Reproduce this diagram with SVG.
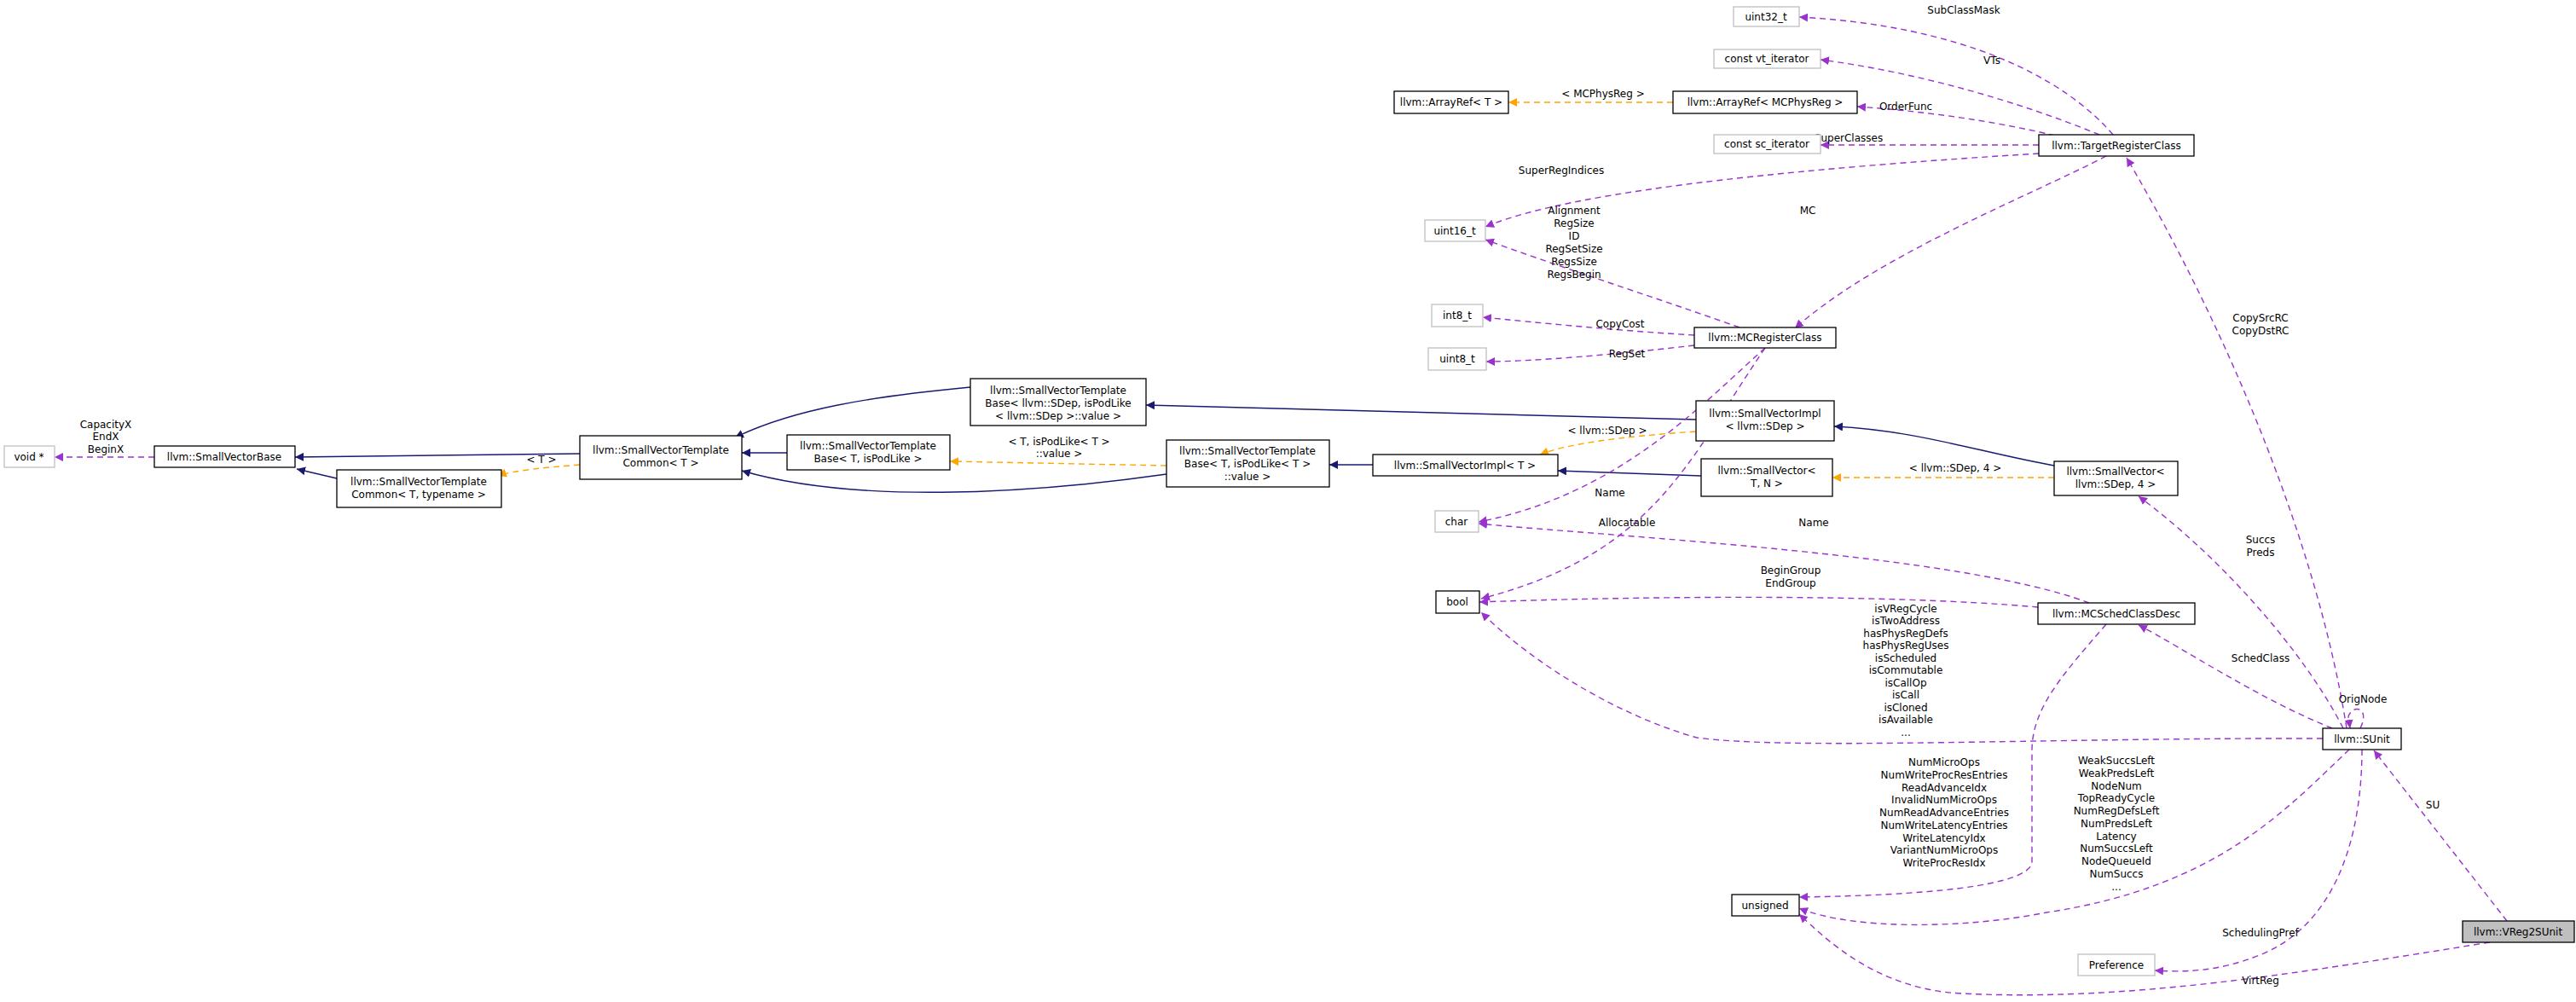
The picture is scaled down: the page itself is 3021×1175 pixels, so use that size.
<svg xmlns="http://www.w3.org/2000/svg" width="3021" height="1175" viewBox="0 0 3021 1175">
<style>
text{font-family:"DejaVu Sans","Liberation Sans",sans-serif;font-size:12px;text-anchor:middle;fill:#000}
.n rect{fill:#fff;stroke:#000;stroke-width:1.3}
.u rect{fill:#fff;stroke:#bfbfbf;stroke-width:1.3}
.h rect{fill:#bfbfbf;stroke:#000;stroke-width:1.3}
.inh{fill:none;stroke:#191970;stroke-width:1.4}
.tpl{fill:none;stroke:#ffa500;stroke-width:1.4;stroke-dasharray:7,5}
.use{fill:none;stroke:#9a32cd;stroke-width:1.4;stroke-dasharray:7,5}
</style>
<defs>
<marker id="an" viewBox="0 0 10 10" refX="10" refY="5" markerWidth="10" markerHeight="10" markerUnits="userSpaceOnUse" orient="auto"><path d="M0,0L10,5L0,10z" fill="#191970"/></marker>
<marker id="ao" viewBox="0 0 10 10" refX="10" refY="5" markerWidth="10" markerHeight="10" markerUnits="userSpaceOnUse" orient="auto"><path d="M0,0L10,5L0,10z" fill="#ffa500"/></marker>
<marker id="ap" viewBox="0 0 10 10" refX="10" refY="5" markerWidth="10" markerHeight="10" markerUnits="userSpaceOnUse" orient="auto"><path d="M0,0L10,5L0,10z" fill="#9a32cd"/></marker>
</defs>
<g id="connectors">
<path class="inh" marker-end="url(#an)" d="M680,532 L346,536"/>
<path class="inh" marker-end="url(#an)" d="M395,561 L348,550"/>
<path class="inh" marker-end="url(#an)" d="M1138,454 C1020,465 930,480 862,513"/>
<path class="inh" marker-end="url(#an)" d="M923,531 L870,531"/>
<path class="inh" marker-end="url(#an)" d="M1368,556 C1200,580 1000,590 870,552"/>
<path class="inh" marker-end="url(#an)" d="M1610,545 L1559,545"/>
<path class="inh" marker-end="url(#an)" d="M1989,492 L1344,475"/>
<path class="inh" marker-end="url(#an)" d="M1995,558 L1827,552"/>
<path class="inh" marker-end="url(#an)" d="M2409,546 C2320,530 2250,505 2151,500"/>
<path class="tpl" marker-end="url(#ao)" d="M680,545 C640,548 600,552 584,558"/>
<path class="tpl" marker-end="url(#ao)" d="M1368,546 L1114,541"/>
<path class="tpl" marker-end="url(#ao)" d="M1962,120 L1769,120"/>
<path class="tpl" marker-end="url(#ao)" d="M1989,506 C1900,512 1840,520 1806,533"/>
<path class="tpl" marker-end="url(#ao)" d="M2409,560 L2149,560"/>
<path class="use" marker-end="url(#ap)" d="M181,536 L64,536"/>
<path class="use" marker-end="url(#ap)" d="M2478,158 C2420,90 2300,30 2110,20"/>
<path class="use" marker-end="url(#ap)" d="M2462,158 C2370,120 2250,85 2135,70"/>
<path class="use" marker-end="url(#ap)" d="M2410,159 C2330,140 2250,130 2178,125"/>
<path class="use" marker-end="url(#ap)" d="M2391,170 L2135,170"/>
<path class="use" marker-end="url(#ap)" d="M2391,180 C2150,195 1850,220 1742,266"/>
<path class="use" marker-end="url(#ap)" d="M2470,183 C2380,230 2200,300 2105,385"/>
<path class="use" marker-end="url(#ap)" d="M2040,384 C1930,345 1820,310 1742,281"/>
<path class="use" marker-end="url(#ap)" d="M1987,393 C1900,388 1800,378 1739,372"/>
<path class="use" marker-end="url(#ap)" d="M1987,405 C1900,415 1800,424 1743,424"/>
<path class="use" marker-end="url(#ap)" d="M2070,408 C2000,470 1900,580 1734,612"/>
<path class="use" marker-end="url(#ap)" d="M2070,408 C1980,540 1940,650 1737,702"/>
<path class="use" marker-end="url(#ap)" d="M2450,707 C2300,650 1900,630 1734,614"/>
<path class="use" marker-end="url(#ap)" d="M2390,712 C2200,695 1900,700 1735,706"/>
<path class="use" marker-end="url(#ap)" d="M2724,866 C2400,865 2100,880 1990,865 C1900,840 1800,780 1737,718"/>
<path class="use" marker-end="url(#ap)" d="M2470,732 C2420,790 2383,830 2383,880 L2383,1010 C2383,1040 2250,1050 2110,1052"/>
<path class="use" marker-end="url(#ap)" d="M2755,879 C2680,950 2600,1040 2400,1070 C2300,1090 2170,1090 2110,1065"/>
<path class="use" marker-end="url(#ap)" d="M2920,1105 C2700,1140 2500,1175 2300,1165 C2200,1160 2140,1100 2110,1072"/>
<path class="use" marker-end="url(#ap)" d="M2752,854 C2720,650 2620,400 2494,185"/>
<path class="use" marker-end="url(#ap)" d="M2748,854 C2700,760 2600,650 2508,582"/>
<path class="use" marker-end="url(#ap)" d="M2735,854 C2650,820 2560,760 2508,733"/>
<path class="use" marker-end="url(#ap)" d="M2768,854 C2780,830 2760,825 2754,840 L2756,854"/>
<path class="use" marker-end="url(#ap)" d="M2770,879 C2770,960 2750,1080 2650,1120 C2600,1140 2560,1140 2527,1138"/>
<path class="use" marker-end="url(#ap)" d="M2940,1080 L2784,880"/>
</g>
<g id="labels">
<text x="124" y="502">CapacityX</text><text x="124" y="516">EndX</text><text x="124" y="531">BeginX</text>
<text x="635" y="543">&lt; T &gt;</text>
<text x="1242" y="522">&lt; T, isPodLike&lt; T &gt;</text><text x="1242" y="536">::value &gt;</text>
<text x="1880" y="114">&lt; MCPhysReg &gt;</text>
<text x="1885" y="509">&lt; llvm::SDep &gt;</text>
<text x="2293" y="553">&lt; llvm::SDep, 4 &gt;</text>
<text x="2303" y="16">SubClassMask</text>
<text x="2336" y="75">VTs</text>
<text x="2235" y="129">OrderFunc</text>
<text x="2168" y="166">SuperClasses</text>
<text x="1831" y="204">SuperRegIndices</text>
<text x="2120" y="251">MC</text>
<text x="1846" y="251">Alignment</text><text x="1846" y="266">RegSize</text><text x="1846" y="281">ID</text><text x="1846" y="296">RegSetSize</text><text x="1846" y="311">RegsSize</text><text x="1846" y="326">RegsBegin</text>
<text x="1900" y="384">CopyCost</text>
<text x="1908" y="419">RegSet</text>
<text x="1888" y="582">Name</text>
<text x="1908" y="617">Allocatable</text>
<text x="2127" y="617">Name</text>
<text x="2100" y="673">BeginGroup</text><text x="2100" y="688">EndGroup</text>
<g>
<text x="2235" y="718">isVRegCycle</text><text x="2235" y="732">isTwoAddress</text><text x="2235" y="747">hasPhysRegDefs</text><text x="2235" y="761">hasPhysRegUses</text><text x="2235" y="776">isScheduled</text><text x="2235" y="790">isCommutable</text><text x="2235" y="805">isCallOp</text><text x="2235" y="819">isCall</text><text x="2235" y="834">isCloned</text><text x="2235" y="848">isAvailable</text><text x="2235" y="863">...</text>
</g>
<g>
<text x="2280" y="898">NumMicroOps</text><text x="2280" y="913">NumWriteProcResEntries</text><text x="2280" y="928">ReadAdvanceIdx</text><text x="2280" y="942">InvalidNumMicroOps</text><text x="2280" y="957">NumReadAdvanceEntries</text><text x="2280" y="972">NumWriteLatencyEntries</text><text x="2280" y="987">WriteLatencyIdx</text><text x="2280" y="1001">VariantNumMicroOps</text><text x="2280" y="1016">WriteProcResIdx</text>
</g>
<g>
<text x="2482" y="896">WeakSuccsLeft</text><text x="2482" y="911">WeakPredsLeft</text><text x="2482" y="926">NodeNum</text><text x="2482" y="940">TopReadyCycle</text><text x="2482" y="955">NumRegDefsLeft</text><text x="2482" y="970">NumPredsLeft</text><text x="2482" y="985">Latency</text><text x="2482" y="999">NumSuccsLeft</text><text x="2482" y="1014">NodeQueueId</text><text x="2482" y="1029">NumSuccs</text><text x="2482" y="1044">...</text>
</g>
<text x="2651" y="377">CopySrcRC</text><text x="2651" y="392">CopyDstRC</text>
<text x="2651" y="637">Succs</text><text x="2651" y="652">Preds</text>
<text x="2651" y="776">SchedClass</text>
<text x="2771" y="824">OrigNode</text>
<text x="2853" y="948">SU</text>
<text x="2651" y="1098">SchedulingPref</text>
<text x="2651" y="1154">VirtReg</text>
</g>
<g id="void" class="u"><rect x="5" y="523" width="59" height="25"/><text x="34" y="540">void *</text></g>
<g id="SmallVectorBase" class="n"><rect x="181" y="523" width="165" height="25"/><text x="263" y="540">llvm::SmallVectorBase</text></g>
<g id="SVTCommonT" class="n"><rect x="680" y="511" width="190" height="51"/><text x="775" y="532">llvm::SmallVectorTemplate</text><text x="775" y="547">Common&lt; T &gt;</text></g>
<g id="SVTCommonTT" class="n"><rect x="395" y="551" width="193" height="44"/><text x="491" y="569">llvm::SmallVectorTemplate</text><text x="491" y="584">Common&lt; T, typename &gt;</text></g>
<g id="SVTBaseSDep" class="n"><rect x="1138" y="444" width="206" height="55"/><text x="1241" y="462">llvm::SmallVectorTemplate</text><text x="1241" y="477">Base&lt; llvm::SDep, isPodLike</text><text x="1241" y="492">&lt; llvm::SDep &gt;::value &gt;</text></g>
<g id="SVTBaseTP" class="n"><rect x="923" y="510" width="191" height="41"/><text x="1018" y="527">llvm::SmallVectorTemplate</text><text x="1018" y="542">Base&lt; T, isPodLike &gt;</text></g>
<g id="SVTBaseTV" class="n"><rect x="1368" y="516" width="191" height="55"/><text x="1463" y="533">llvm::SmallVectorTemplate</text><text x="1463" y="548">Base&lt; T, isPodLike&lt; T &gt;</text><text x="1463" y="563">::value &gt;</text></g>
<g id="SmallVectorImplT" class="n"><rect x="1610" y="533" width="217" height="25"/><text x="1718" y="550">llvm::SmallVectorImpl&lt; T &gt;</text></g>
<g id="SmallVectorImplSDep" class="n"><rect x="1989" y="470" width="162" height="47"/><text x="2070" y="489">llvm::SmallVectorImpl</text><text x="2070" y="504">&lt; llvm::SDep &gt;</text></g>
<g id="SmallVectorTN" class="n"><rect x="1995" y="538" width="154" height="44"/><text x="2072" y="556">llvm::SmallVector&lt;</text><text x="2072" y="571">T, N &gt;</text></g>
<g id="SmallVectorSDep4" class="n"><rect x="2409" y="541" width="145" height="40"/><text x="2481" y="557">llvm::SmallVector&lt;</text><text x="2481" y="572">llvm::SDep, 4 &gt;</text></g>
<g id="uint32" class="u"><rect x="2033" y="8" width="77" height="23"/><text x="2071" y="24">uint32_t</text></g>
<g id="vtit" class="u"><rect x="2010" y="58" width="125" height="22"/><text x="2072" y="73">const vt_iterator</text></g>
<g id="ArrayRefT" class="n"><rect x="1635" y="107" width="134" height="26"/><text x="1702" y="124">llvm::ArrayRef&lt; T &gt;</text></g>
<g id="ArrayRefMC" class="n"><rect x="1962" y="107" width="216" height="26"/><text x="2070" y="124">llvm::ArrayRef&lt; MCPhysReg &gt;</text></g>
<g id="scit" class="u"><rect x="2010" y="158" width="125" height="22"/><text x="2072" y="173">const sc_iterator</text></g>
<g id="TRC" class="n"><rect x="2391" y="158" width="182" height="25"/><text x="2482" y="175">llvm::TargetRegisterClass</text></g>
<g id="uint16" class="u"><rect x="1671" y="258" width="71" height="25"/><text x="1706" y="275">uint16_t</text></g>
<g id="int8" class="u"><rect x="1679" y="357" width="60" height="26"/><text x="1709" y="374">int8_t</text></g>
<g id="uint8" class="u"><rect x="1675" y="408" width="68" height="26"/><text x="1709" y="425">uint8_t</text></g>
<g id="MCRC" class="n"><rect x="1987" y="384" width="166" height="24"/><text x="2070" y="400">llvm::MCRegisterClass</text></g>
<g id="char" class="u"><rect x="1683" y="599" width="51" height="25"/><text x="1708" y="616">char</text></g>
<g id="bool" class="n"><rect x="1684" y="693" width="51" height="26"/><text x="1709" y="710">bool</text></g>
<g id="MCSCD" class="n"><rect x="2390" y="707" width="184" height="25"/><text x="2482" y="724">llvm::MCSchedClassDesc</text></g>
<g id="SUnit" class="n"><rect x="2724" y="854" width="92" height="25"/><text x="2770" y="871">llvm::SUnit</text></g>
<g id="unsigned" class="n"><rect x="2031" y="1049" width="79" height="25"/><text x="2070" y="1066">unsigned</text></g>
<g id="Preference" class="u"><rect x="2437" y="1119" width="90" height="25"/><text x="2482" y="1136">Preference</text></g>
<g id="VReg2SUnit" class="h"><rect x="2888" y="1080" width="131" height="25"/><text x="2953" y="1097">llvm::VReg2SUnit</text></g>
</svg>
